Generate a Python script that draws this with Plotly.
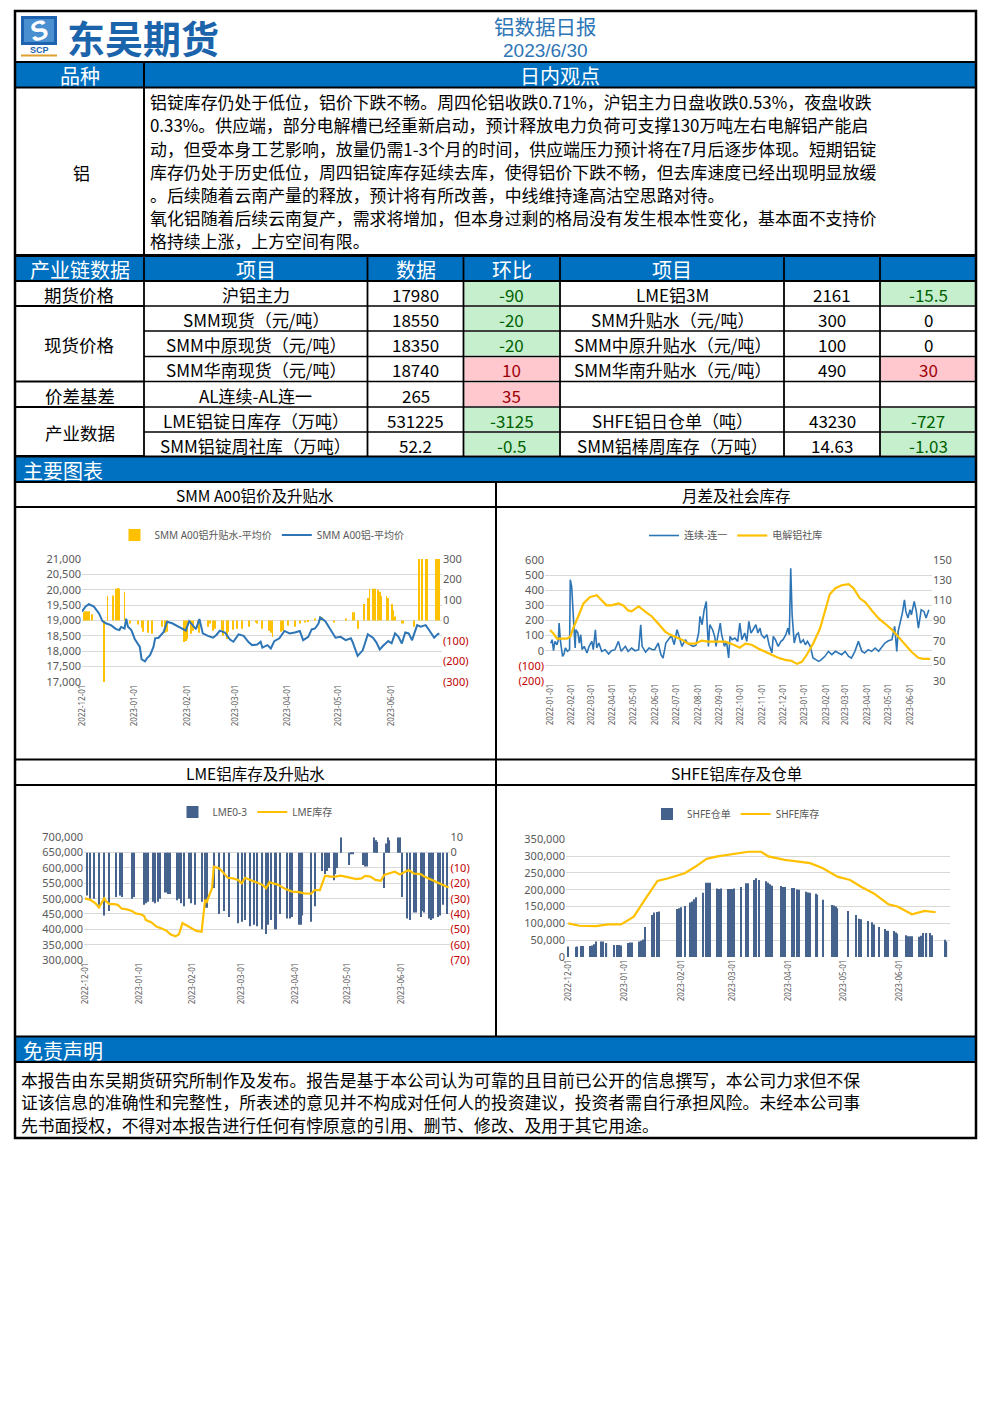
import pandas as pd
import plotly.graph_objects as go

W, H = 992, 1403
def X(px): return px / W
def Y(py): return 1 - py / H
def dates(start, days): return pd.Timestamp(start) + pd.to_timedelta(days, unit="D")
DAY_MS = 86400000

# ------------------------------------------------------------------ DATA
report_title = "铝数据日报"
report_date = "2023/6/30"
company = "东吴期货"

view_para = [
    "铝锭库存仍处于低位，铝价下跌不畅。周四伦铝收跌0.71%，沪铝主力日盘收跌0.53%，夜盘收跌",
    "0.33%。供应端，部分电解槽已经重新启动，预计释放电力负荷可支撑130万吨左右电解铝产能启",
    "动，但受本身工艺影响，放量仍需1-3个月的时间，供应端压力预计将在7月后逐步体现。短期铝锭",
    "库存仍处于历史低位，周四铝锭库存延续去库，使得铝价下跌不畅，但去库速度已经出现明显放缓",
    "。后续随着云南产量的释放，预计将有所改善，中线维持逢高沽空思路对待。",
    "氧化铝随着后续云南复产，需求将增加，但本身过剩的格局没有发生根本性变化，基本面不支持价",
    "格持续上涨，上方空间有限。",
]
disclaimer = [
    "本报告由东吴期货研究所制作及发布。报告是基于本公司认为可靠的且目前已公开的信息撰写，本公司力求但不保",
    "证该信息的准确性和完整性，所表述的意见并不构成对任何人的投资建议，投资者需自行承担风险。未经本公司事",
    "先书面授权，不得对本报告进行任何有悖原意的引用、删节、修改、及用于其它用途。",
]

table_header = ["产业链数据", "项目", "数据", "环比", "项目", "", ""]
sections = ["期货价格", "现货价格", "价差基差", "产业数据"]
section_span = [1, 3, 1, 2]
items_left = ["沪铝主力", "SMM现货（元/吨）", "SMM中原现货（元/吨）", "SMM华南现货（元/吨）",
              "AL连续-AL连一", "LME铝锭日库存（万吨）", "SMM铝锭周社库（万吨）"]
values_left = [17980, 18550, 18350, 18740, 265, 531225, 52.2]
chg_left = [-90, -20, -20, 10, 35, -3125, -0.5]
items_right = ["LME铝3M", "SMM升贴水（元/吨）", "SMM中原升贴水（元/吨）", "SMM华南升贴水（元/吨）",
               "", "SHFE铝日仓单（吨）", "SMM铝棒周库存（万吨）"]
values_right = [2161, 300, 100, 490, None, 43230, 14.63]
chg_right = [-15.5, 0, 0, 30, None, -727, -1.03]

chart_titles = ["SMM A00铝价及升贴水", "月差及社会库存", "LME铝库存及升贴水", "SHFE铝库存及仓单"]

# Chart 1 : SMM A00 (days since 2022-12-01)
c1_start = "2022-12-01"
c1_price_day = [0,2,4,7,10,12,14,17,20,22,23,25,26,27,29,31,34,35,37,38,40,42,43,45,48,50,53,57,60,61,
                63,65,67,69,71,74,77,79,81,84,87,89,92,95,98,100,103,105,106,109,111,113,116,119,122,125,
                128,130,133,135,137,139,140,143,146,149,152,155,158,159,162,165,168,171,173,175,177,180,
                182,184,186,188,190,192,194,197,199,202,204,207,209,210]
c1_price = [19290,19450,19530,19450,19230,18980,18910,18850,18720,18690,18790,18740,19060,18800,18690,
            18400,18140,17740,17670,17760,17870,18140,18420,18440,18630,18960,18910,18800,18710,18670,
            18980,18850,18720,19050,18580,18500,18440,18530,18670,18610,18380,18310,18550,18500,18290,
            18200,18220,18310,18120,18200,18090,18330,18420,18660,18580,18610,18660,18360,18470,18710,
            18740,18900,19100,18980,18690,18440,18470,18360,18420,18310,17850,18030,18550,18440,18290,
            18060,18180,18330,18260,18580,18470,18250,18610,18580,18360,18850,18800,18850,18690,18440,
            18550,18580]
c1_prem_day = [1,2,3,4,6,13,15,18,20,21,22,25,28,33,35,36,39,41,47,49,50,60,61,62,64,65,68,69,74,75,
               77,78,82,83,85,86,89,91,94,98,102,103,106,110,111,112,117,118,121,125,128,131,133,137,
               140,141,148,155,159,160,162,166,168,169,171,172,174,175,176,179,180,182,183,184,188,189,
               195,198,200,202,203,208,209,210]
c1_prem = [40,45,45,45,30,-300,120,122,155,158,155,140,-15,-20,-35,-55,-60,-65,-30,-60,-55,-105,-100,
           -90,-65,-50,-35,-60,-30,-15,-50,-40,-45,-75,-90,-55,-45,-40,-40,-30,-10,-15,-40,-50,-60,-80,
           -55,-50,-25,-30,-15,-10,-5,10,20,15,-10,10,40,40,-40,80,110,155,155,155,150,140,120,120,110,
           80,50,20,-15,-15,-30,300,300,300,300,300,300,300]

# Chart 2 : spread & social stock (days since 2022-01-01)
c2_start = "2022-01-01"
c2_spread_day = [1,3,5,7,10,12,13,15,18,20,22,25,28,29,31,33,36,37,40,42,44,46,49,53,56,60,62,65,67,70,
                 74,79,84,88,93,98,102,108,112,117,122,127,130,132,137,142,147,150,155,159,162,166,170,
                 174,178,182,185,189,194,197,201,205,209,213,215,218,221,224,225,227,229,233,236,238,240,
                 244,246,250,253,256,258,261,265,269,272,275,279,282,285,288,291,295,298,301,303,307,311,
                 314,318,320,323,327,331,334,338,341,343,345,347,350,353,356,359,363,366,369,373,375,377,
                 381,385,389,394,399,404,409,413,418,423,428,432,437,442,444,447,451,456,461,466,471,475,
                 480,485,490,494,497,499,502,505,508,510,513,516,518,522,525,528,532,536,539,543]
c2_spread = [50,73,0,62,40,73,183,62,-37,-22,18,-4,7,470,425,282,18,139,117,51,106,7,29,-15,29,62,7,
             139,18,51,-4,7,-22,0,7,62,-4,29,-4,18,0,7,172,29,-9,18,7,7,51,-26,-48,51,73,101,40,139,95,
             29,73,51,40,29,35,117,227,172,271,326,194,29,172,139,95,29,84,183,106,29,62,-48,95,73,84,
             62,183,73,117,62,194,117,139,172,117,150,106,84,106,40,-15,95,73,29,62,73,106,150,106,545,
             238,51,106,117,51,73,40,62,29,-4,-48,-59,-70,-59,-37,-4,-26,-4,-15,-26,-4,-37,-48,-4,62,40,
             -4,-15,7,-4,18,-4,18,51,66,73,161,-4,128,183,249,337,260,216,271,238,326,260,150,271,260,
             216,271]
c2_stock_day = [0,5,10,17,24,29,33,41,48,57,67,74,81,88,98,105,112,117,127,136,146,155,165,172,182,189,
                198,208,217,227,237,251,263,272,280,289,299,308,318,327,337,346,354,361,368,377,387,394,
                401,409,418,428,435,444,452,461,471,480,490,499,509,518,528,535,545]
c2_stock = [80.6,77,72,72,72,74,82,95,107,113,115,110,105,105,107,105,100,99,104,99,94,87,79,76,73,71,
            67,67,70,69,69,69,66,63,67,66,62,59,56,53,51,50,47,49,56,67,82,99,116,122,125,126,122,112,
            108,100,92,87,81,74,66,59,53,52,52]

# Chart 3 : LME (days since 2022-12-01)
c3_start = "2022-12-01"
c3_stock_day = [0,3,6,8,11,12,14,17,19,21,24,27,29,32,34,35,38,41,44,47,49,52,54,56,58,61,64,67,69,70,
                73,74,77,79,82,85,88,90,92,95,98,102,104,106,108,111,115,119,123,126,130,132,135,138,141,
                144,147,149,153,156,159,161,164,167,170,172,175,178,181,184,186,189,193,195,199,203,206,209]
c3_stock = [501000,496000,485000,471000,501000,492000,482000,482000,479000,468000,465000,460000,452000,
            449000,443000,430000,423000,409000,403000,395000,384000,377000,384000,420000,414000,405000,
            395000,392000,496000,490000,534000,604000,599000,588000,568000,566000,561000,550000,568000,
            561000,553000,545000,534000,553000,550000,545000,532000,523000,521000,517000,516000,528000,
            528000,575000,572000,572000,575000,572000,568000,564000,566000,574000,572000,561000,558000,
            577000,583000,588000,579000,586000,593000,582000,580000,572000,561000,550000,542000,536000]
c3_spread_day = [1,3,5,8,11,14,18,20,21,27,28,34,35,36,39,40,42,43,46,47,48,49,53,54,55,57,60,61,63,67,
                 69,70,74,77,80,83,88,90,92,95,97,99,102,104,105,107,109,110,112,116,118,119,123,124,125,
                 130,132,136,138,139,140,143,144,145,147,152,153,154,160,161,162,166,167,168,172,173,174,
                 175,180,181,182,185,187,189,190,193,194,195,198,199,200,203,204,206,208]
c3_spread = [-28,-30,-30,-34,-41,-38,-29,-28,-29,-30,-29,-34,-33,-32,-32,-33,-32,-30,-26,-26,-27,-27,-31,
             -30,-33,-35,-30,-33,-34,-32,-36,-36,-23,-40,-38,-42,-46,-45,-44,-48,-47,-48,-50,-53,-47,-44,
             -50,-50,-40,-43,-43,-42,-47,-47,-41,-45,-35,-12,-14,-12,-10,-18,-14,-10,10,-8,-1,-1,-8,-9,
             -9,10,8,7,-23,6,10,8,10,10,-29,-43,-44,-39,-39,-42,-38,-39,-43,-44,-43,-42,-41,-34,-40]

# Chart 4 : SHFE (days since 2022-12-01)
c4_start = "2022-12-01"
c4_wr_day = [0,4,5,7,8,12,13,14,15,18,19,21,25,27,28,29,33,34,35,39,40,41,42,46,47,49,50,60,61,62,64,67,
             68,69,70,74,76,77,78,82,83,84,88,89,90,91,95,98,99,102,103,105,109,110,111,112,117,118,119,
             123,124,126,127,131,132,133,136,137,140,145,146,147,148,154,158,160,161,165,167,168,171,174,
             175,176,179,180,181,186,187,188,189,193,194,195,197,199,200,207,208]
c4_wr = [31000,30000,31000,33000,33000,33000,34000,38000,46000,46000,46000,42000,36000,36000,36000,34000,
         42000,43000,43000,46000,48000,52000,89000,125000,132000,134000,135000,143000,145000,148000,152000,
         162000,165000,172000,178000,191000,221000,221000,221000,204000,202000,204000,202000,202000,202000,
         204000,208000,219000,219000,229000,234000,229000,225000,221000,216000,212000,211000,208000,208000,
         205000,205000,201000,200000,194000,192000,191000,188000,185000,170000,155000,153000,150000,145000,
         137000,125000,114000,112000,107000,103000,97000,89000,83000,78000,78000,77000,73000,69000,65000,
         62000,62000,62000,60000,63000,71000,71000,71000,65000,51000,46000]
c4_stock_day = [0,6,15,22,29,36,42,49,55,61,64,70,76,82,88,94,99,106,110,119,125,133,140,148,155,161,168,
                176,181,189,196,202]
c4_stock = [100000,93000,92000,97000,97000,120000,170000,226000,234000,244000,249000,269000,292000,
            299000,304000,311000,313000,313000,299000,289000,284000,279000,264000,239000,229000,209000,
            189000,157000,150000,127000,137000,133000]

# ------------------------------------------------------------------ STYLE
FONT = "Noto Sans CJK SC"
TFONT = "Noto Sans, Noto Sans CJK SC"
BAND = "#0070C0"
LBLUE = "#2E75B6"
YELLOW = "#FFC000"
BARDARK = "#44618C"
GRID = "#D9D9D9"
TICKC = "#595959"
NEG = "#C00000"
GFILL, GTXT = "#C6EFCE", "#006100"
RFILL, RTXT = "#FFC7CE", "#9C0006"

shapes, annotations = [], []

def rect(x0, y0, x1, y1, fill, lw=0, lc="black", layer="below"):
    shapes.append(dict(type="rect", xref="paper", yref="paper", x0=X(x0), x1=X(x1), y0=Y(y1), y1=Y(y0),
                       fillcolor=fill, line=dict(width=lw, color=lc), layer=layer))

def seg(x0, y0, x1, y1, w=2, c="black"):
    shapes.append(dict(type="line", xref="paper", yref="paper", x0=X(x0), x1=X(x1), y0=Y(y0), y1=Y(y1),
                       line=dict(width=w, color=c), layer="above"))

def txt(x, y, s, size=16, color="black", xanchor="center", family=FONT, angle=0):
    annotations.append(dict(xref="paper", yref="paper", x=X(x), y=Y(y), text=s, showarrow=False,
                            xanchor=xanchor, yanchor="middle", textangle=angle, borderpad=0,
                            font=dict(size=size, color=color, family=family)))

L, R = 15, 976
# ---- header
txt(545, 25.5, report_title, 20.5, "#2E75B6")
txt(545, 50.5, report_date, 19, "#2E75B6", family="Liberation Sans, Arial")
rect(21, 16, 57, 45, "#1E63B0")
rect(24, 19, 54, 42, "#4A90D0")
txt(39, 31, "<b><i>S</i></b>", 27, "white", family="Liberation Sans", angle=-20)
txt(39, 50, "<b>SCP</b>", 9, "#1E63B0", family="Liberation Sans")
seg(21, 55.5, 57, 55.5, 2, "#E0A030")
txt(66, 36, "<b>" + company + "</b>", 38, "#1B64AC", xanchor="left")

# ---- bands
for y0, y1 in [(62, 87), (256, 281), (457, 482), (1037, 1062)]:
    rect(L, y0, R, y1, BAND)
txt(79.5, 75, "品种", 20, "white")
txt(560, 75, "日内观点", 20, "white")
txt(22, 470, "主要图表", 20, "white", xanchor="left")
txt(22, 1050, "免责声明", 20, "white", xanchor="left")

# ---- view
txt(81, 172, "铝", 17)
para_y = [102, 125, 148, 171, 194, 217, 241]
for s, yy in zip(view_para, para_y):
    txt(148.5, yy, s, 16.9, xanchor="left")
for i, s in enumerate(disclaimer):
    txt(20, 1079.5 + 22.8 * i, s, 16.8, xanchor="left")

# ---- table
cols = [L, 144, 367.5, 463.5, 560, 784, 880, R]
rows = [281, 306, 331, 356.5, 381.5, 407, 432, 456]
for i, h in enumerate(table_header):
    txt((cols[i] + cols[i + 1]) / 2, 269, h, 20, "white")

BODY = 17
def chg_cell(ci, ri, v):
    if v is None:
        return
    cx = (cols[ci] + cols[ci + 1]) / 2
    cy = (rows[ri] + rows[ri + 1]) / 2
    color = "black"
    if v < 0:
        rect(cols[ci] + 1, rows[ri] + 1, cols[ci + 1] - 1, rows[ri + 1] - 1, GFILL)
        color = GTXT
    elif v > 0:
        rect(cols[ci] + 1, rows[ri] + 1, cols[ci + 1] - 1, rows[ri + 1] - 1, RFILL)
        color = RTXT
    txt(cx, cy + 1, "{:g}".format(v), BODY, color)

for r in range(7):
    cy = (rows[r] + rows[r + 1]) / 2 + 1
    txt((cols[1] + cols[2]) / 2, cy, items_left[r], BODY)
    txt((cols[2] + cols[3]) / 2, cy, "{:g}".format(values_left[r]), BODY)
    chg_cell(3, r, chg_left[r])
    if items_right[r]:
        txt((cols[4] + cols[5]) / 2, cy, items_right[r], BODY)
    if values_right[r] is not None:
        txt((cols[5] + cols[6]) / 2, cy, "{:g}".format(values_right[r]), BODY)
    chg_cell(6, r, chg_right[r])

start = 0
sec_bounds = [rows[0]]
for name, span in zip(sections, section_span):
    y0, y1 = rows[start], rows[start + span]
    txt((cols[0] + cols[1]) / 2, (y0 + y1) / 2 + 1, name, 17.5)
    start += span
    sec_bounds.append(y1)

# ---- grid lines
for yy in [62, 87.5, 255, 256, 281]:
    seg(L, yy, R, yy, 2)
for yy in rows[1:-1]:
    seg(cols[1], yy, R, yy, 1.5)
for yy in sec_bounds:
    seg(L, yy, cols[1], yy, 2)
seg(L, 456.5, R, 456.5, 2)
seg(L, 482, R, 482, 2)
seg(L, 507, R, 507, 2)
seg(L, 759.5, R, 759.5, 2)
seg(L, 785, R, 785, 2)
seg(L, 1036.5, R, 1036.5, 2)
seg(L, 1062, R, 1062, 2)
seg(144, 62, 144, 255, 2)
for xx in cols[1:-1]:
    seg(xx, 256, xx, 456.5, 1.8)
seg(496, 482, 496, 1036.5, 2)
shapes.append(dict(type="rect", xref="paper", yref="paper", x0=X(L), x1=X(R), y0=Y(1138), y1=Y(11),
                   line=dict(width=2.5, color="black"), fillcolor="rgba(0,0,0,0)", layer="above"))

# chart titles
txt(255, 495, chart_titles[0], 15.5)
txt(736, 495, chart_titles[1], 15.5)
txt(255, 773, chart_titles[2], 15.5)
txt(736, 773, chart_titles[3], 15.5)

# ------------------------------------------------------------------ CHARTS
fig = go.Figure()
fig.add_trace(go.Bar(x=dates(c1_start, c1_prem_day), y=c1_prem, xaxis="x", yaxis="y", width=0.5 * DAY_MS,
                     marker=dict(color=YELLOW, opacity=0.99, line=dict(width=0)),
                     name="SMM A00铝升贴水-平均价", legend="legend"))
fig.add_trace(go.Scatter(x=dates(c1_start, c1_price_day), y=c1_price, xaxis="x", yaxis="y2", mode="lines",
                         line=dict(color=LBLUE, width=2), name="SMM A00铝-平均价", legend="legend"))
fig.add_trace(go.Scatter(x=dates(c2_start, c2_spread_day), y=c2_spread, xaxis="x2", yaxis="y3", mode="lines",
                         line=dict(color=LBLUE, width=1.6), name="连续-连一", legend="legend2"))
fig.add_trace(go.Scatter(x=dates(c2_start, c2_stock_day), y=c2_stock, xaxis="x2", yaxis="y4", mode="lines",
                         line=dict(color=YELLOW, width=2.2), name="电解铝社库", legend="legend2"))
fig.add_trace(go.Bar(x=dates(c3_start, c3_spread_day), y=c3_spread, xaxis="x3", yaxis="y5", width=0.65 * DAY_MS,
                     marker=dict(color=BARDARK, opacity=0.99, line=dict(width=0)), name="LME0-3", legend="legend3"))
fig.add_trace(go.Scatter(x=dates(c3_start, c3_stock_day), y=c3_stock, xaxis="x3", yaxis="y6", mode="lines",
                         line=dict(color=YELLOW, width=2.2), name="LME库存", legend="legend3"))
fig.add_trace(go.Bar(x=dates(c4_start, c4_wr_day), y=c4_wr, xaxis="x4", yaxis="y7", width=0.65 * DAY_MS,
                     marker=dict(color=BARDARK, opacity=0.99, line=dict(width=0)), name="SHFE仓单", legend="legend4"))
fig.add_trace(go.Scatter(x=dates(c4_start, c4_stock_day), y=c4_stock, xaxis="x4", yaxis="y7", mode="lines",
                         line=dict(color=YELLOW, width=2.2), name="SHFE库存", legend="legend4"))

def lab(v):
    return "<span style='color:%s'>(%d)</span>" % (NEG, abs(v)) if v < 0 else "{:,}".format(v)

tickfont = dict(size=11, color=TICKC, family=TFONT)
datefont = dict(size=8, color=TICKC, family=TFONT)

def xax(dom, rng, start, end, anchor):
    return dict(domain=[X(dom[0]), X(dom[1])], anchor=anchor, type="date", range=rng,
                tickvals=pd.date_range(start, end, freq="MS"), tickformat="%Y-%m-%d", tickangle=-90,
                tickfont=datefont, showgrid=False, zeroline=False, showline=False, ticks="", fixedrange=True)

def yax(dom, rng, vals, side, anchor, grid, overlay=None):
    d = dict(range=rng, tickvals=vals, ticktext=[lab(v) for v in vals], side=side, anchor=anchor,
             showgrid=grid, gridcolor=GRID, gridwidth=1, zeroline=False, showline=False, ticks="",
             tickfont=tickfont, fixedrange=True)
    if overlay:
        d["overlaying"] = overlay
    else:
        d["domain"] = [Y(dom[1]), Y(dom[0])]
    return d

t0 = pd.Timestamp("2022-12-01")
layout = dict(
    xaxis=xax((82, 442), [t0, t0 + pd.Timedelta(days=211.6)], "2022-12-01", "2023-06-01", "y"),
    yaxis=yax((559, 682), [-300, 300], list(range(300, -301, -100)), "right", "x", False),
    yaxis2=yax(None, [17000, 21000], list(range(17000, 21001, 500)), "left", "x", True, "y"),
    xaxis2=xax((545, 932), [pd.Timestamp("2022-01-01") - pd.Timedelta(days=7.2),
                            pd.Timestamp("2022-01-01") + pd.Timedelta(days=547.5)], "2022-01-01", "2023-06-01", "y3"),
    yaxis3=yax((560, 681), [-200, 600], list(range(600, -201, -100)), "left", "x2", True),
    yaxis4=yax(None, [30, 150], list(range(150, 29, -20)), "right", "x2", False, "y3"),
    xaxis3=xax((84, 449.5), [t0 - pd.Timedelta(days=0.6), t0 + pd.Timedelta(days=209.5)], "2022-12-01", "2023-06-01", "y5"),
    yaxis5=yax((837.3, 960), [-70, 10], list(range(10, -71, -10)), "right", "x3", False),
    yaxis6=yax(None, [300000, 700000], list(range(300000, 700001, 50000)), "left", "x3", True, "y5"),
    xaxis4=xax((566, 950), [t0 - pd.Timedelta(days=1.3), t0 + pd.Timedelta(days=209.9)], "2022-12-01", "2023-06-01", "y7"),
    yaxis7=yax((839.3, 957), [0, 350000], list(range(0, 350001, 50000)), "left", "x4", True),
)

def leg(x, y):
    return dict(x=X(x), y=Y(y), xanchor="center", yanchor="middle", orientation="h",
                font=dict(size=10, color=TICKC, family=TFONT), bgcolor="rgba(0,0,0,0)",
                itemwidth=30, tracegroupgap=0)

fig.update_layout(
    width=W, height=H, autosize=False, margin=dict(l=0, r=0, t=0, b=0),
    paper_bgcolor="white", plot_bgcolor="rgba(0,0,0,0)", template="none",
    showlegend=True,
    legend=leg(262, 535), legend2=leg(736, 535.5), legend3=leg(255, 812), legend4=leg(736, 814),
    shapes=shapes, annotations=annotations, **layout,
)
fig.write_html("out.html")
